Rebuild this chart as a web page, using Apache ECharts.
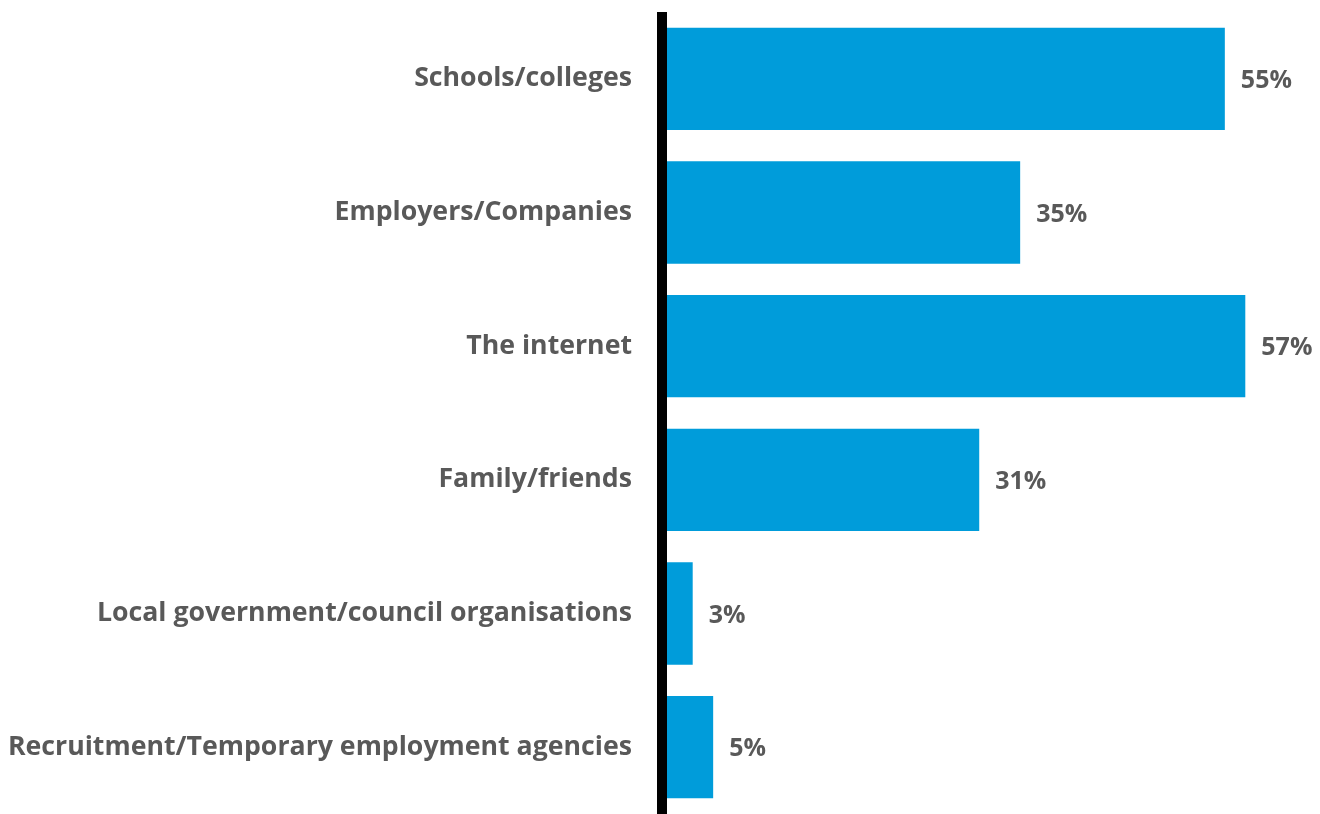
<!DOCTYPE html>
<html>
<head>
<meta charset="utf-8">
<script src="https://cdn.jsdelivr.net/npm/echarts@6/dist/echarts.min.js"></script>
<style>
  html, body { margin: 0; padding: 0; background: #fff; }
  #chart { width: 1320px; height: 814px; }
</style>
</head>
<body>
<div id="chart"></div>
<script>
// Where respondents get information, share of respondents (%)
const categories = [
  'Schools/colleges',
  'Employers/Companies',
  'The internet',
  'Family/friends',
  'Local government/council organisations',
  'Recruitment/Temporary employment agencies'
];
const shares = [55, 35, 57, 31, 3, 5];

const chart = echarts.init(document.getElementById('chart'));
const textColor = '#595959';
const fontFamily = '"Open Sans", Lato, sans-serif';

chart.setOption({
  animation: false,
  grid: { left: 662, right: 44, top: 12, bottom: -2, containLabel: false },
  xAxis: {
    type: 'value',
    min: 0,
    max: 60,
    show: false,
    splitLine: { show: false }
  },
  yAxis: {
    type: 'category',
    inverse: true,
    data: categories,
    z: 5,
    axisLine: { show: true, lineStyle: { color: '#000', width: 10, cap: 'butt' } },
    axisTick: { show: false },
    axisLabel: {
      margin: 30,
      padding: [4, 0, 0, 0],
      color: textColor,
      fontFamily: fontFamily,
      fontWeight: 'bold',
      fontSize: 26.7
    }
  },
  series: [{
    type: 'bar',
    data: shares,
    barCategoryGap: '23.5%',
    itemStyle: { color: '#009CDA' },
    label: {
      show: true,
      position: 'right',
      distance: 16,
      offset: [0, 2],
      formatter: '{c}%',
      color: textColor,
      fontFamily: fontFamily,
      fontWeight: 'bold',
      fontSize: 25
    }
  }]
});
</script>
</body>
</html>
